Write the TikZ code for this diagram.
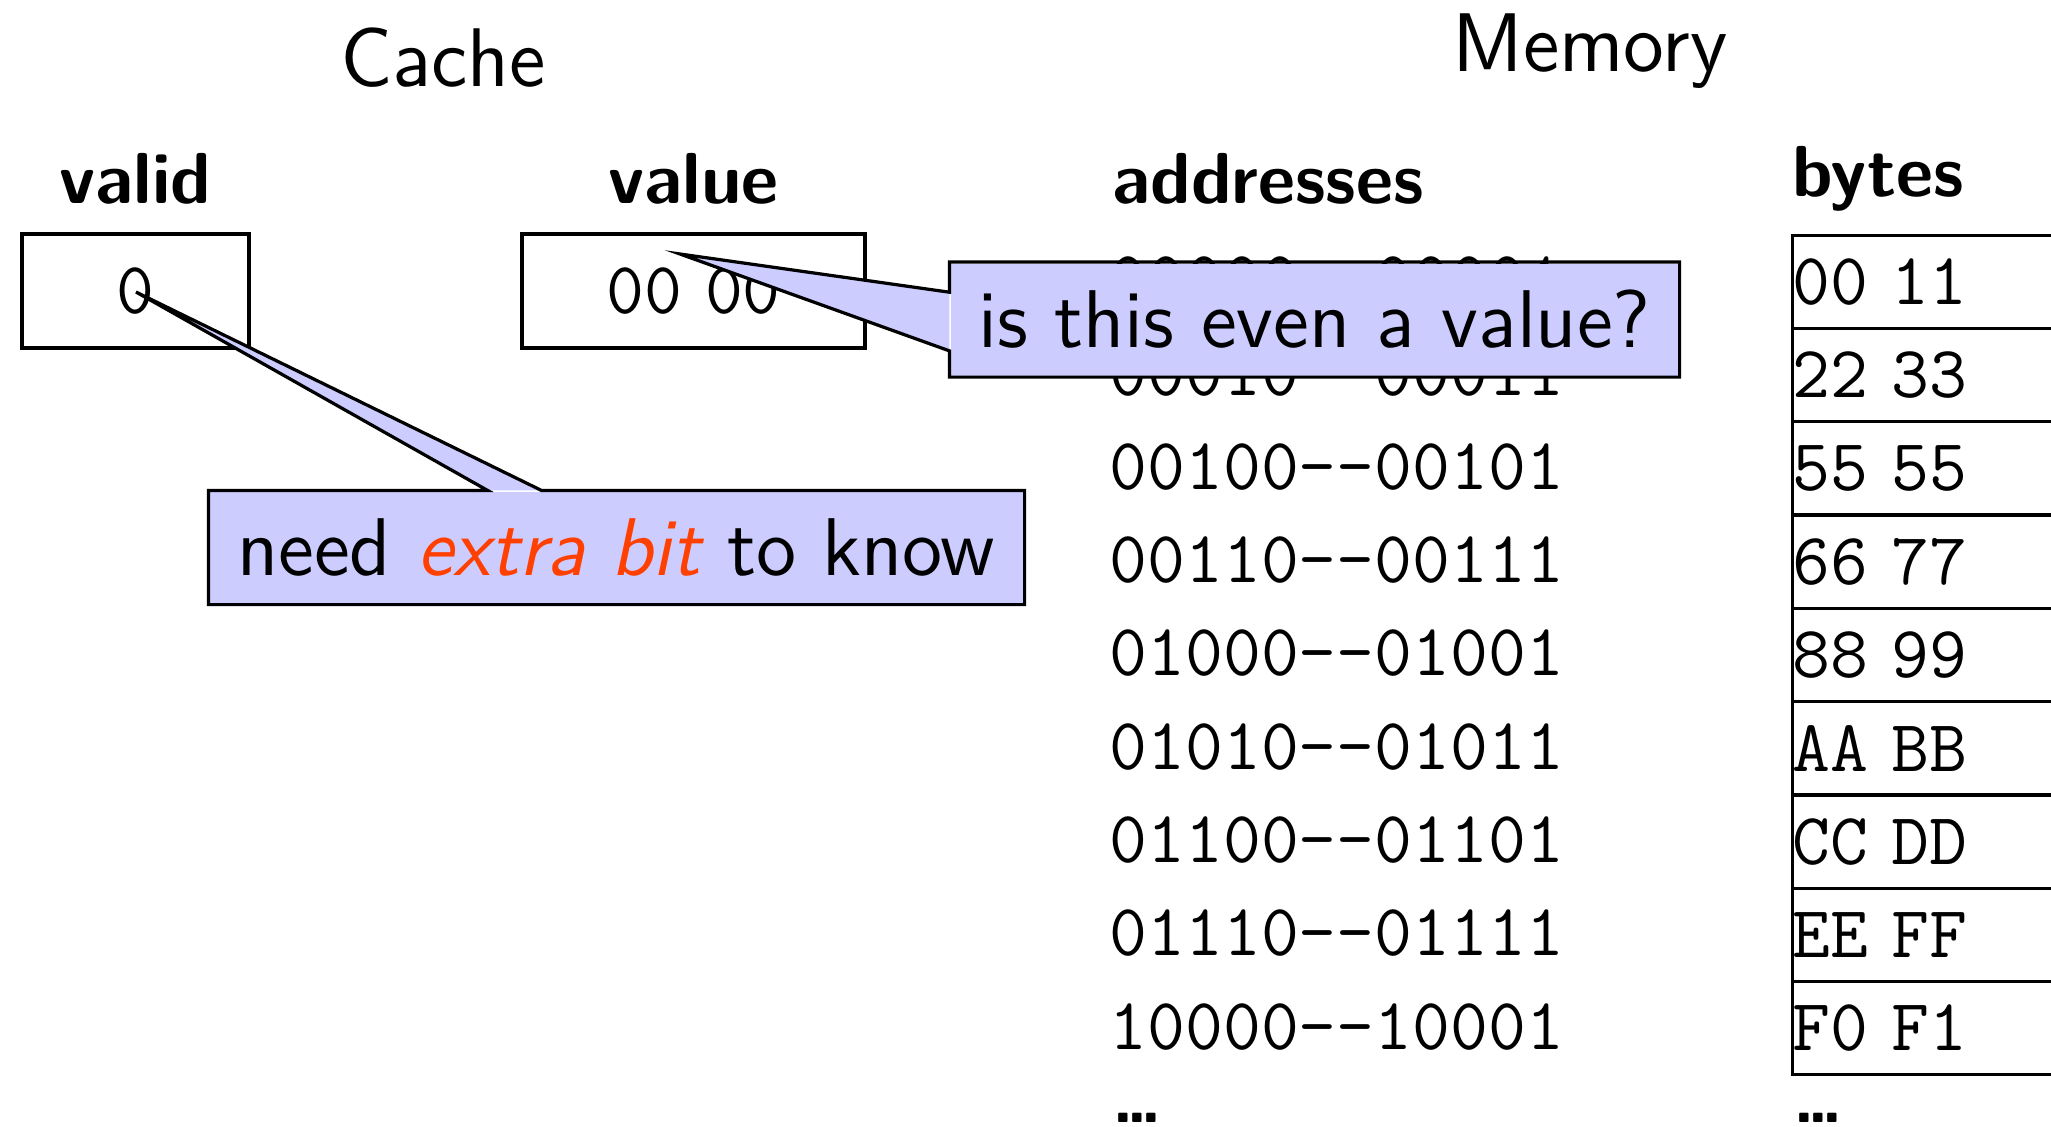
\documentclass[tikz,border=0pt]{standalone}
\usepackage{fontspec}
\usetikzlibrary{calc}

\definecolor{callfill}{RGB}{204,204,255}
\definecolor{alertred}{RGB}{255,64,0}
% drawing unit: one grid step
\def\pxu{0.155039pt}
% typewriter digits used in the cells
\newcommand\monotext[1]{{\fontsize{11.4}{13}\selectfont\ttfamily #1}}

\tikzset{
  title/.style={font=\fontsize{12.9}{15}\selectfont\sffamily, inner sep=0pt, anchor=base},
  colhead/.style={font=\fontsize{11.2}{13}\selectfont\sffamily\bfseries, inner sep=0pt},
  ttcell/.style={font=\fontsize{11}{13}\selectfont\sffamily, inner sep=0pt},
  cachebox/.style={draw, ttcell, minimum height=114*\pxu},
  bytecell/.style={draw, inner sep=0pt, anchor=north west, minimum width=320*\pxu, minimum height=93.3*\pxu},
  bytetext/.style={ttcell, anchor=west},
  addr/.style={ttcell, anchor=west},
  more/.style={font=\fontsize{11}{13}\selectfont\sffamily\bfseries, inner sep=0pt, anchor=base west},
  calloutbox/.style={fill=callfill, inner sep=0pt, font=\fontsize{12.7}{15}\selectfont\sffamily},
}

\begin{document}
\begin{tikzpicture}[x=\pxu, y=-\pxu, line join=miter, line width=0.5pt]
\useasboundingbox (0,0) rectangle (2051,1126);
\clip (0,0) rectangle (2051,1126);

% titles
\node[title] (cachetitle) at (443,86) {Cache};
\node[title] (memtitle) at (1590,71) {Memory};

% cache line: valid bit and value
\node[colhead, anchor=base] (validhead) at (135.5,203) {valid};
\node[colhead, anchor=base] (valuehead) at (693.5,203) {value};
\node[cachebox, minimum width=227*\pxu] (valid) at (135.5,291) {\monotext{0}};
\node[cachebox, minimum width=343*\pxu] (value) at (693.5,291) {\monotext{00} \monotext{00}};

% memory: address ranges and byte pairs
\node[colhead, anchor=base west] (addrhead) at (1111,203) {addresses};
\node[colhead, anchor=base west] (bytehead) at (1791,196) {bytes};

\foreach \ad/\ba/\bb [count=\i from 0] in {
    00000--00001/00/11, 00010--00011/22/33, 00100--00101/55/55,
    00110--00111/66/77, 01000--01001/88/99, 01010--01011/AA/BB,
    01100--01101/CC/DD, 01110--01111/EE/FF, 10000--10001/F0/F1} {
  \pgfmathsetmacro\rowtop{233.5+\i*93.3}
  \node[bytecell] (cell\i) at (1791,\rowtop) {};
  \node[bytetext] (byte\i) at (cell\i.west) {\monotext{\ba} \monotext{\bb}};
  \node[addr] (addr\i) at (1108,\rowtop+46.65) {\monotext{\ad}};
}

\node[more] (addrmore) at (1111,1122) {.\kern-1.2pt.\kern-1.2pt.};
\node[more] (bytemore) at (1792,1122) {.\kern-1.2pt.\kern-1.2pt.};

% callout on the valid bit
\node[calloutbox, minimum width=813*\pxu, minimum height=111*\pxu] (needbit)
  at (616.5,547.5) {need {\itshape\color{alertred}extra bit} to know};
\coordinate (needtip) at (136,292);
\coordinate (needa) at ($(needbit.north west)!0.342!(needbit.north east)$);
\coordinate (needb) at ($(needbit.north west)!0.408!(needbit.north east)$);
\fill[callfill] (needa) -- (needtip) -- (needb) -- cycle;
\draw (needb) -- (needbit.north east) -- (needbit.south east) -- (needbit.south west)
  -- (needbit.north west) -- (needa) -- (needtip) -- cycle;

% callout on the value
\node[calloutbox, minimum width=727*\pxu, minimum height=112*\pxu] (isvalue)
  at (1314.5,319.5) {is this even a value?};
\coordinate (valtip) at (680,254);
\coordinate (vala) at ($(isvalue.north west)!0.263!(isvalue.south west)$);
\coordinate (valb) at ($(isvalue.north west)!0.772!(isvalue.south west)$);
\fill[callfill] (vala) -- (valtip) -- (valb) -- cycle;
\draw (valb) -- (isvalue.south west) -- (isvalue.south east) -- (isvalue.north east)
  -- (isvalue.north west) -- (vala) -- (valtip) -- cycle;
\end{tikzpicture}
\end{document}
